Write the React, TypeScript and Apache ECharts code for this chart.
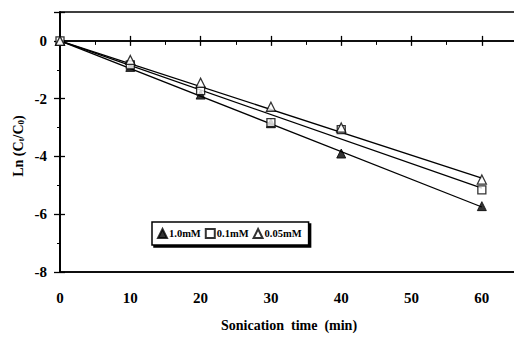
import React, { useEffect, useRef } from "react";
import * as echarts from "echarts";

const times = [0, 10, 20, 30, 40, 60];
const c10mM = [0, -0.9, -1.86, -2.85, -3.9, -5.72];
const c01mM = [0, -0.83, -1.72, -2.83, -3.07, -5.16];
const c005mM = [0, -0.66, -1.45, -2.28, -3.0, -4.8];
const fitEnds = { a: -5.75, b: -5.1, c: -4.75 };
const fitX = [0, 60];
const seriesNames = ["1.0mM", "0.1mM", "0.05mM"];

const FONT = "'Liberation Serif', 'Times New Roman', serif";

export default function App() {
  const ref = useRef<HTMLDivElement>(null);
  useEffect(() => {
    if (!ref.current) return;
    const chart = echarts.init(ref.current, null, { renderer: "svg" });
    const pts = (ys: number[]) => times.map((t, i) => [t, ys[i]]);
    const fit = (end: number) => [[fitX[0], 0], [fitX[1], end]];
    const lineStyle = { color: "#000", width: 1.3 };
    const axisBase = {
      type: "value",
      min: 0,
      max: 65,
      interval: 10,
      splitLine: { show: false },
    };
    chart.setOption({
      animation: false,
      backgroundColor: "#fff",
      grid: {
        left: 60, right: -3, top: 12, bottom: 67,
        containLabel: false, outerBoundsMode: "none",
        show: true, borderColor: "#000", borderWidth: 1.5, backgroundColor: "transparent",
      },
      xAxis: [
        {
          ...axisBase,
          position: "bottom",
          axisLine: { onZero: false, lineStyle: { color: "#000", width: 1.5 } },
          axisTick: { show: false },
          axisLabel: {
            margin: 18,
            color: "#000",
            fontFamily: FONT,
            fontWeight: "bold",
            fontSize: 15,
            formatter: (v: number) => (v > 60 ? "" : String(v)),
          },
        },
        {
          ...axisBase,
          position: "top",
          axisLine: { onZero: true, lineStyle: { color: "#000", width: 1.5 } },
          axisTick: { show: true, length: 5, lineStyle: { color: "#000", width: 1.3 } },
          axisLabel: { show: false },
        },
        {
          ...axisBase,
          position: "top",
          axisLine: { onZero: true, lineStyle: { color: "#000", width: 1.5 } },
          axisTick: { show: true, inside: true, length: 5, lineStyle: { color: "#000", width: 1.3 } },
          minorTick: { show: true, splitNumber: 2, length: 4, lineStyle: { color: "#000" } },
          axisLabel: { show: false },
        },
      ],
      yAxis: [
        {
          type: "value",
          min: -8,
          max: 1,
          interval: 2,
          position: "left",
          splitLine: { show: false },
          axisLine: { show: true, onZero: true, lineStyle: { color: "#000", width: 1.5 } },
          axisTick: { show: true, length: 6, lineStyle: { color: "#000", width: 1.3 } },
          minorTick: { show: true, splitNumber: 2, length: 3, lineStyle: { color: "#000" } },
          axisLabel: {
            margin: 13,
            color: "#000",
            fontFamily: FONT,
            fontWeight: "bold",
            fontSize: 15,
            formatter: (v: number) => (v > 0 ? "" : String(v)),
          },
        },
        {
          type: "value",
          min: -8,
          max: 1,
          interval: 2,
          position: "right",
          splitLine: { show: false },
          axisLine: { show: true, onZero: true, lineStyle: { color: "#000", width: 1.5 } },
          axisTick: { show: true, length: 5, lineStyle: { color: "#000", width: 1.3 } },
          axisLabel: { show: false },
        },
      ],
      legend: {
        left: 152,
        top: 222,
        width: 170,
        data: seriesNames,
        orient: "horizontal",
        itemWidth: 9,
        itemHeight: 9,
        itemGap: 4,
        padding: [6, 7, 6, 5],
        borderColor: "#000",
        borderWidth: 1.5,
        backgroundColor: "#fff",
        shadowColor: "#000",
        shadowOffsetX: 2,
        shadowOffsetY: 2,
        shadowBlur: 0,
        selectedMode: false,
        textStyle: { color: "#000", fontFamily: FONT, fontWeight: "bold", fontSize: 10.5, padding: [0, 0, 0, -3] },
      },
      series: [
        { type: "line", data: fit(fitEnds.a), showSymbol: false, symbol: "none", lineStyle, silent: true },
        { type: "line", data: fit(fitEnds.b), showSymbol: false, symbol: "none", lineStyle, silent: true },
        { type: "line", data: fit(fitEnds.c), showSymbol: false, symbol: "none", lineStyle, silent: true },
        {
          name: seriesNames[0],
          type: "scatter",
          data: pts(c10mM),
          symbol: "triangle",
          symbolSize: 9,
          itemStyle: { color: "#000", borderColor: "#000", borderWidth: 1 },
          z: 5,
        },
        {
          name: seriesNames[1],
          type: "scatter",
          data: pts(c01mM),
          symbol: "rect",
          symbolSize: 8,
          itemStyle: { color: "#fff", borderColor: "#000", borderWidth: 1.3 },
          z: 5,
        },
        {
          name: seriesNames[2],
          type: "scatter",
          data: pts(c005mM),
          symbol: "triangle",
          symbolSize: 9,
          itemStyle: { color: "#fff", borderColor: "#000", borderWidth: 1.3 },
          z: 6,
        },
      ],
      graphic: [
        {
          type: "text",
          x: 18,
          y: 146,
          rotation: Math.PI / 2,
          style: {
            text: "Ln (C{s|t}/C{s|0})",
            fill: "#000",
            font: `bold 14px ${FONT}`,
            align: "center",
            verticalAlign: "middle",
            rich: {
              s: { fontSize: 9, fontWeight: "bold", fontFamily: FONT, verticalAlign: "bottom", padding: [6, 0, 0, 0] },
            },
          },
        },
        {
          type: "text",
          x: 289,
          y: 325,
          style: {
            text: "Sonication  time  (min)",
            fill: "#000",
            font: `bold 14px ${FONT}`,
            align: "center",
            verticalAlign: "middle",
          },
        },
      ],
    });
    return () => chart.dispose();
  }, []);
  return <div ref={ref} style={{ width: 514, height: 339, position: "absolute", left: 0, top: 0 }} />;
}
